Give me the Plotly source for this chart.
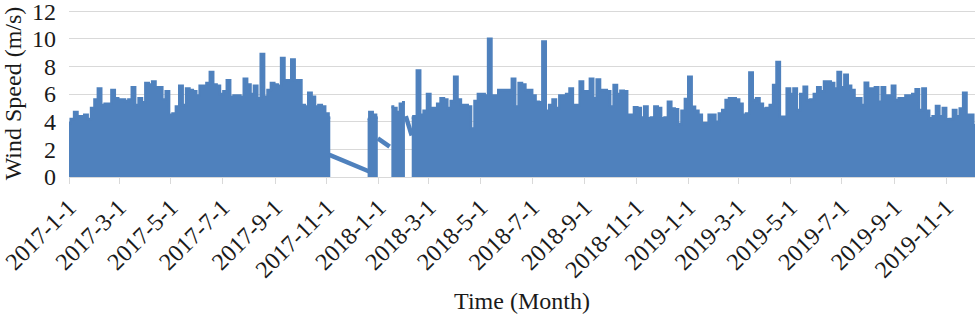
import pandas as pd
import plotly.graph_objects as go

# ---- data (envelope of wind speed, 4-day resolution) ----
wind_2017 = [
    3.9, 4.2, 4.7, 4.4, 4.4, 4.5, 4.2, 5.0, 5.6, 6.4,
    5.2, 5.3, 5.3, 6.3, 5.7, 5.6, 5.6, 5.5, 5.6, 6.5,
    5.2, 5.7, 5.4, 6.8, 6.7, 6.9, 6.5, 6.5, 5.6, 6.2,
    4.5, 4.6, 5.1, 6.6, 5.2, 6.4, 6.3, 6.2, 5.9, 6.6,
    6.6, 6.8, 7.6, 6.7, 6.6, 6.0, 6.2, 7.0, 5.8, 5.9,
    5.9, 5.8, 7.1, 6.7, 6.0, 6.6, 5.7, 8.9, 5.8, 6.3,
    6.8, 6.7, 6.6, 8.6, 7.0, 7.0, 8.5, 7.0, 7.0, 5.2,
    5.1, 6.1, 5.8, 5.1, 5.2, 5.1, 4.6, 4.3,
]
wind_2017_dec = [4.2, 4.7, 4.5, 4.3]
wind_2018_jan = [5.1, 5.0, 4.7, 5.3, 5.4]
wind_2018_2019 = [
    4.3, 4.4, 7.7, 4.5, 4.8, 6.0, 5.0, 5.0, 5.3, 5.7,
    5.6, 5.0, 5.5, 7.25, 5.6, 5.2, 5.2, 5.1, 3.5, 5.5,
    6.0, 6.0, 5.9, 10.0, 5.9, 5.9, 6.3, 6.3, 6.3, 6.3,
    7.1, 5.1, 6.8, 6.7, 6.3, 6.3, 5.9, 5.45, 5.4, 9.8,
    4.8, 5.2, 5.6, 5.0, 5.9, 5.9, 6.0, 6.4, 5.2, 5.2,
    6.9, 6.2, 6.2, 7.1, 5.7, 7.06, 6.3, 6.3, 6.2, 5.1,
    6.66, 6.0, 6.24, 6.2, 4.5, 4.5, 5.05, 5.0, 4.3, 5.1,
    4.25, 4.3, 5.1, 5.0, 4.25, 4.3, 5.45, 4.96, 4.9, 3.83,
    4.8, 5.65, 7.25, 5.08, 4.8, 4.5, 3.9, 3.9, 4.5, 4.5,
    4.0, 4.6, 4.84, 5.57, 5.7, 5.7, 5.6, 5.3, 4.5, 4.6,
    7.56, 5.57, 5.7, 5.3, 4.96, 5.0, 5.2, 6.66, 8.32, 4.35,
    4.35, 6.41, 6.0, 6.41, 4.84, 6.0, 6.53, 5.57, 5.6, 6.0,
    6.5, 6.2, 6.9, 6.9, 6.8, 6.4, 7.6, 6.5, 7.4, 6.6,
    6.3, 5.7, 5.7, 5.2, 6.82, 6.4, 6.4, 6.5, 5.45, 6.5,
    5.9, 5.9, 6.6, 5.57, 5.7, 5.7, 5.9, 5.9, 6.0, 6.34,
    4.85, 6.41, 4.8, 4.25, 4.4, 5.13, 4.4, 5.0, 4.17, 4.2,
    4.84, 4.4, 4.96, 6.1, 4.5, 4.5, 3.75, 3.9, 4.2, 4.0,
    4.4, 3.8, 4.1,
]

wind_speed = (wind_2017 + [None] * 10 + wind_2017_dec + [None] * 3
              + wind_2018_jan + [None] + wind_2018_2019)
sample_dates = pd.date_range("2017-01-01", periods=len(wind_speed), freq="4D")

# lines drawn across the missing-data periods
gap_dates = ["2017-11-04", "2017-12-21", None,
             "2017-12-31", "2018-01-14", None,
             "2018-02-02", "2018-02-09"]
gap_speed = [1.6, 0.4, None, 2.8, 2.2, None, 4.4, 3.0]

tick_dates = ["2017-01-01", "2017-03-01", "2017-05-01", "2017-07-01", "2017-09-01",
              "2017-11-01", "2018-01-01", "2018-03-01", "2018-05-01", "2018-07-01",
              "2018-09-01", "2018-11-01", "2019-01-01", "2019-03-01", "2019-05-01",
              "2019-07-01", "2019-09-01", "2019-11-01"]
tick_labels = ["2017-1-1", "2017-3-1", "2017-5-1", "2017-7-1", "2017-9-1",
               "2017-11-1", "2018-1-1", "2018-3-1", "2018-5-1", "2018-7-1",
               "2018-9-1", "2018-11-1", "2019-1-1", "2019-3-1", "2019-5-1",
               "2019-7-1", "2019-9-1", "2019-11-1"]
y_ticks = [0, 2, 4, 6, 8, 10, 12]

BLUE = "#4F81BD"
FONT = "Liberation Serif"
TXT = "#1a1a1a"

# split the sampled series into continuous segments (each filled separately)
segments = []
cur_x, cur_y = [], []
for d, v in zip(sample_dates, wind_speed):
    if v is None:
        if cur_x:
            segments.append((cur_x, cur_y))
        cur_x, cur_y = [], []
    else:
        cur_x.append(d)
        cur_y.append(v)
if cur_x:
    segments.append((cur_x, cur_y))

fig = go.Figure()
for sx, sy in segments:
    fig.add_trace(go.Scatter(
        x=sx, y=sy, mode="lines",
        line=dict(color=BLUE, width=2.5, shape="hvh"),
        fill="tozeroy", fillcolor=BLUE,
        hoverinfo="skip", name="Wind Speed",
    ))
fig.add_trace(go.Scatter(
    x=gap_dates, y=gap_speed, mode="lines",
    line=dict(color=BLUE, width=4.5), connectgaps=False,
    hoverinfo="skip", name="gap",
))

fig.update_layout(
    width=975, height=318,
    margin=dict(l=69, r=0, t=10, b=141),
    paper_bgcolor="white", plot_bgcolor="white",
    showlegend=False,
    font=dict(family=FONT, size=24, color=TXT),
)
fig.update_xaxes(
    type="date", range=["2017-01-01", "2019-12-05"], automargin=False,
    tickmode="array", tickvals=tick_dates, ticktext=tick_labels,
    tickangle=-45, showgrid=False, zeroline=False,
    showline=True, linecolor="#d9d9d9", linewidth=1,
    ticks="outside", ticklen=6, tickcolor="#d9d9d9",
    tickfont=dict(family=FONT, size=24, color=TXT),
    ticklabeloverflow="allow",
    title=dict(text="Time (Month)", standoff=10,
               font=dict(family=FONT, size=24, color=TXT)),
)
fig.update_yaxes(
    range=[0, 12.08], automargin=False,
    tickmode="array", tickvals=y_ticks,
    showgrid=True, gridcolor="#d9d9d9", gridwidth=1.3,
    zeroline=False, showline=False, ticks="",
    ticklabelstandoff=12, ticklabeloverflow="allow",
    tickfont=dict(family=FONT, size=24, color=TXT),
    title=dict(text="Wind Speed (m/s)", standoff=8,
               font=dict(family=FONT, size=24, color=TXT)),
)

fig.write_html("out.html", config={"displayModeBar": False},
               post_script="document.body.style.margin='0px';")
